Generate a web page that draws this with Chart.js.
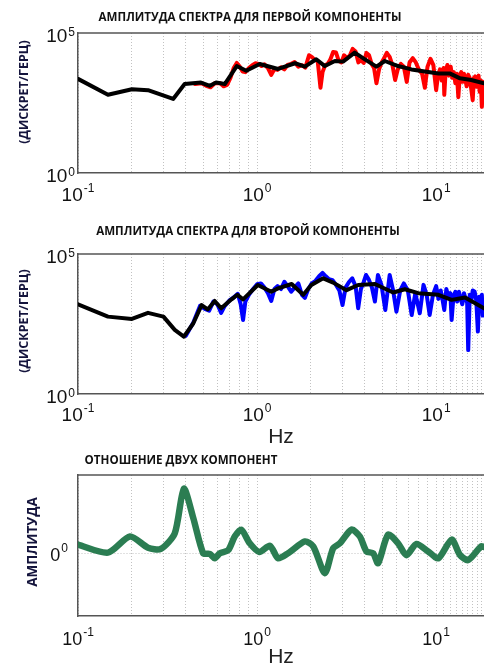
<!DOCTYPE html>
<html>
<head>
<meta charset="utf-8">
<script src="https://cdn.jsdelivr.net/npm/chart.js@4.4.0/dist/chart.umd.min.js"></script>
<style>
body{margin:0;background:#fff;width:484px;height:667px;position:relative;overflow:hidden;font-family:"Open Sans",sans-serif}
canvas{position:absolute;left:0}
.title{position:absolute;font-weight:bold;font-size:11.6px;color:#111;white-space:nowrap;transform:translate(-50%,-50%)}
.ylab{position:absolute;font-weight:bold;font-size:12.5px;color:#14143c;white-space:nowrap;transform:translate(-50%,-50%) rotate(-90deg)}
</style>
</head>
<body>
<canvas id="c1" width="484" height="205" style="top:0"></canvas>
<canvas id="c2" width="484" height="245" style="top:205px"></canvas>
<canvas id="c3" width="484" height="220" style="top:450px"></canvas>
<div class="title" style="left:250px;top:16px">АМПЛИТУДА СПЕКТРА ДЛЯ ПЕРВОЙ КОМПОНЕНТЫ</div>
<div class="title" style="left:248px;top:230px">АМПЛИТУДА СПЕКТРА ДЛЯ ВТОРОЙ КОМПОНЕНТЫ</div>
<div class="title" style="left:181px;top:459px">ОТНОШЕНИЕ ДВУХ КОМПОНЕНТ</div>
<div class="ylab" style="left:23px;top:92px">(ДИСКРЕТ/ГЕРЦ)</div>
<div class="ylab" style="left:23px;top:321px">(ДИСКРЕТ/ГЕРЦ)</div>
<div class="ylab" style="left:32px;top:542px;font-size:13.5px">АМПЛИТУДА</div>
<script>
// ticks
const gridFreqs = [0.1,0.2,0.3,0.4,0.5,0.6,0.7,0.8,0.9,1,2,3,4,5,6,7,8,9,10,11,12,13,14,15,16,17,18]
const xMajor = [0.1, 1, 10]
const xMajorExp = ['-1', '0', '1']
const yMajor = [1, 100000]
const yMajorExp = ['0', '5']

// first component: smoothed (black) and raw (red)
const freq1 = [0.1,0.147,0.2,0.246,0.34,0.394,0.486,0.545,0.59,0.66,0.77,0.87,1.035,1.31,1.63,1.85,2.14,2.39,2.72,3.02,3.51,4.0,4.64,5.17,6.13,7.28,8.65,10.3,11.9,13.6,15.7,18.5]
const smooth1 = [2300,620,980,910,440,1500,1700,1300,1700,1500,6600,4500,7800,5200,8300,6300,11500,6600,10000,9500,20000,11500,6300,10000,6600,5000,4200,3600,3600,2400,2100,1600]
const rawFreq1 = [0.45,0.49,0.52,0.55,0.58,0.62,0.65,0.68,0.71,0.74,0.77,0.8,0.83,0.86,0.9,0.94,0.98,1.02,1.06,1.1,1.15,1.2,1.25,1.3,1.36,1.42,1.48,1.55,1.62,1.7,1.78,1.86,1.95,2.02,2.1,2.18,2.26,2.32,2.4,2.48,2.56,2.66,2.76,2.86,2.96,3.06,3.18,3.3,3.42,3.55,3.68,3.8,3.94,4.08,4.22,4.36,4.5,4.64,4.8,4.96,5.12,5.3,5.5,5.7,5.9,6.1,6.35,6.6,6.85,7.1,7.4,7.7,8.0,8.35,8.65,8.95,9.3,9.65,10.0,10.25,10.5,10.75,11.0,11.1,11.3,11.55,11.8,12.05,12.3,12.55,12.8,13.05,13.3,13.55,13.8,14.05,14.3,14.55,14.8,15.1,15.4,15.7,16.0,16.25,16.5,16.75,17.0,17.25,17.5,17.75,18.0,18.25,18.5]
const raw1 = [1500,1600,1300,1150,1600,1650,1250,1400,2500,5600,8500,6300,4200,4000,5600,7100,8300,7900,6600,7600,5600,3200,5200,4800,6000,5000,7200,7900,9100,6300,7100,5800,16000,14000,11000,10000,1100,4000,7100,7900,11000,21000,20000,10000,8900,16000,12600,16000,27000,22000,8900,11000,8500,19500,16000,7900,5600,1600,5000,8900,12600,19500,14000,7100,2100,5000,7900,6300,1800,8900,12600,8900,5000,3500,1100,6300,12000,7100,910,3200,5000,2000,5600,620,4500,7200,3000,6300,2500,4000,1600,3500,510,3000,4000,1800,3500,2200,1250,3200,2500,1000,400,2500,2800,1200,2000,3000,790,2000,230,1800,1600]

// second component: smoothed (black) and raw (blue)
const freq2 = [0.1,0.147,0.2,0.246,0.3,0.347,0.39,0.44,0.49,0.53,0.58,0.63,0.72,0.776,0.835,1.01,1.2,1.31,1.56,1.81,2.01,2.34,2.66,3.16,3.67,4.55,5.75,6.68,7.94,10.3,12.2,14.5,18.5]
const smooth2 = [1600,580,480,790,580,195,112,330,1500,1050,2100,1150,2400,3500,2400,7800,4500,5900,8500,3500,7800,13500,9500,5100,7800,8500,4200,5500,4000,3500,2300,2800,1150]
const rawFreq2 = [0.4,0.44,0.48,0.51,0.54,0.57,0.6,0.63,0.66,0.7,0.74,0.78,0.81,0.835,0.86,0.9,0.95,1.0,1.05,1.1,1.15,1.2,1.25,1.3,1.36,1.42,1.48,1.55,1.62,1.7,1.78,1.85,1.93,2.02,2.12,2.22,2.32,2.42,2.52,2.64,2.76,2.88,3.0,3.12,3.26,3.4,3.55,3.67,3.8,3.94,4.06,4.2,4.38,4.55,4.73,4.95,5.2,5.5,5.75,6.0,6.3,6.6,6.95,7.3,7.65,8.1,8.5,8.85,9.2,9.6,10.0,10.3,10.6,10.9,11.1,11.4,11.7,12.0,12.2,12.5,12.8,13.1,13.4,13.7,14.0,14.3,14.6,14.9,15.1,15.4,15.7,16.0,16.4,16.75,17.1,17.4,17.7,18.0,18.2,18.5]
const raw2 = [120,350,1400,1100,950,2000,1600,790,1400,2200,2800,3800,1600,440,2000,3500,5600,8300,8900,6300,4000,2100,5600,7100,5600,10200,7100,4500,6300,8900,3500,2700,5600,8900,11000,16000,21000,16000,12600,11700,7900,5000,1500,6300,10000,13500,7100,1150,5600,10000,17800,12600,6300,2000,17800,7900,1000,17800,5000,870,5000,8900,5000,660,4000,760,7900,3500,660,3500,7100,2500,5000,2000,1000,5600,3000,4000,440,3200,4500,2000,4500,2500,1600,4000,2500,1800,37,3500,2000,5000,4500,2200,170,3000,2000,3500,630,1250]

// ratio of the two components
const freq3 = [0.1,0.147,0.195,0.246,0.29,0.347,0.39,0.44,0.5,0.545,0.58,0.62,0.69,0.75,0.816,0.91,1.03,1.18,1.31,1.49,1.85,2.06,2.39,2.66,2.9,3.37,3.75,4.08,4.45,4.74,5.39,6.13,6.82,7.76,9.02,10.3,12.2,13.6,15.1,17.8,18.5]
const ratio3 = [0.15,0.02,0.28,0.1,0.08,0.33,1.05,0.58,0.01,0,-0.07,0.01,0.06,0.28,0.39,0.17,0.03,0.13,-0.07,0.01,0.2,0.12,-0.31,0.09,0.17,0.39,0.28,0.04,0.01,-0.15,0.31,0.17,-0.02,0.16,0.04,-0.07,0.23,-0.02,-0.1,0.12,0.11]

const pts = (xs, ys) => xs.map((x, i) => ({ x, y: ys[i] }))
const FONT = '"Liberation Sans", Arial, sans-serif'

const topBorder = {
    id: 'topBorder',
    afterDraw(chart) {
        const { ctx, chartArea: a } = chart
        ctx.save()
        ctx.strokeStyle = '#555'
        ctx.lineWidth = 1.5
        ctx.beginPath()
        ctx.moveTo(a.left, a.top)
        ctx.lineTo(a.right, a.top)
        ctx.stroke()
        ctx.restore()
    }
}

// matlab-like "10^n" labels placed with the chart's own scales
const powLabel = (ctx, base, exp, size, expSize, raise) => {
    ctx.font = `${size}px ${FONT}`
    const w1 = ctx.measureText(base).width
    ctx.font = `${expSize}px ${FONT}`
    const w2 = ctx.measureText(exp).width
    return {
        width: w1 + 1 + w2,
        draw(left, baseline) {
            ctx.font = `${size}px ${FONT}`
            ctx.fillText(base, left, baseline)
            ctx.font = `${expSize}px ${FONT}`
            ctx.fillText(exp, left + w1 + 1, baseline - raise)
        }
    }
}

const tickLabels = (xDrop, xSize, yBase, yExps, yVals, ySize, yExpSize, yRaise, yRight, yShift) => ({
    id: 'tickLabels',
    afterDraw(chart) {
        const { ctx, scales: { x, y }, chartArea: a } = chart
        ctx.save()
        ctx.fillStyle = '#111'
        ctx.textAlign = 'left'
        ctx.textBaseline = 'alphabetic'
        xMajor.forEach((v, i) => {
            const lab = powLabel(ctx, '10', xMajorExp[i], xSize, 12, 9)
            lab.draw(x.getPixelForValue(v) - lab.width / 2, a.bottom + xDrop + xSize * 0.716)
        })
        yVals.forEach((v, i) => {
            const lab = powLabel(ctx, yBase, yExps[i], ySize, yExpSize, yRaise)
            lab.draw(yRight - lab.width, y.getPixelForValue(v) + yShift + ySize * 0.358)
        })
        ctx.restore()
    }
})

const xScale = (height, showTitle) => ({
    type: 'logarithmic', min: 0.1, max: 18.5,
    afterBuildTicks: s => { s.ticks = gridFreqs.map(v => ({ value: v })) },
    afterFit: s => { s.height = height },
    ticks: { display: false, autoSkip: false },
    grid: { color: '#c2c2c2', lineWidth: 1, drawTicks: false },
    border: { display: true, color: '#555', width: 1.5, dash: [1, 2] },
    title: { display: showTitle, text: 'Hz', color: '#222', font: { family: FONT, size: 21 }, padding: { top: 0, bottom: 0 } }
})

const logY = {
    type: 'logarithmic', min: 1, max: 100000,
    afterBuildTicks: s => { s.ticks = yMajor.map(v => ({ value: v })) },
    afterFit: s => { s.width = 78 },
    ticks: { display: false },
    grid: { display: false },
    border: { display: true, color: '#555', width: 1.5 }
}

const common = (padTop) => ({
    responsive: false, animation: false,
    layout: { padding: { top: padTop, left: 0, right: 0, bottom: 0 } },
    plugins: { legend: { display: false }, tooltip: { enabled: false } },
    elements: { point: { radius: 0 }, line: { tension: 0, borderJoinStyle: 'round', borderCapStyle: 'round' } }
})

new Chart(document.getElementById('c1'), {
    type: 'line',
    data: {
        datasets: [
            { data: pts(freq1, smooth1), borderColor: '#000', borderWidth: 4 },
            { data: pts(rawFreq1, raw1), borderColor: '#ff0000', borderWidth: 4 }
        ]
    },
    options: { ...common(33), scales: { x: xScale(32, false), y: logY } },
    plugins: [topBorder, tickLabels(14, 19, '10', yMajorExp, yMajor, 19, 12, 6, 75, 2)]
})

new Chart(document.getElementById('c2'), {
    type: 'line',
    data: {
        datasets: [
            { data: pts(freq2, smooth2), borderColor: '#000', borderWidth: 4 },
            { data: pts(rawFreq2, raw2), borderColor: '#0000ff', borderWidth: 4 }
        ]
    },
    options: { ...common(49), scales: { x: xScale(56, true), y: logY } },
    plugins: [topBorder, tickLabels(13, 19, '10', yMajorExp, yMajor, 19, 12, 6, 75, 2)]
})

new Chart(document.getElementById('c3'), {
    type: 'line',
    data: {
        datasets: [
            { data: pts(freq3, ratio3), borderColor: '#2b7d52', borderWidth: 6.5, tension: 0.25 }
        ]
    },
    options: {
        ...common(25),
        scales: {
            x: xScale(54, true),
            y: {
                type: 'linear', min: -1, max: 1.27,
                afterBuildTicks: s => { s.ticks = [{ value: 0 }] },
                afterFit: s => { s.width = 78 },
                ticks: { display: false },
                grid: { color: '#c2c2c2', drawTicks: false },
                border: { display: true, color: '#555', width: 1.5, dash: [1, 2] }
            }
        }
    },
    plugins: [topBorder, tickLabels(16, 18, '0', ['0'], [0], 18, 12, 9, 68, 1)]
})
</script>
</body>
</html>
